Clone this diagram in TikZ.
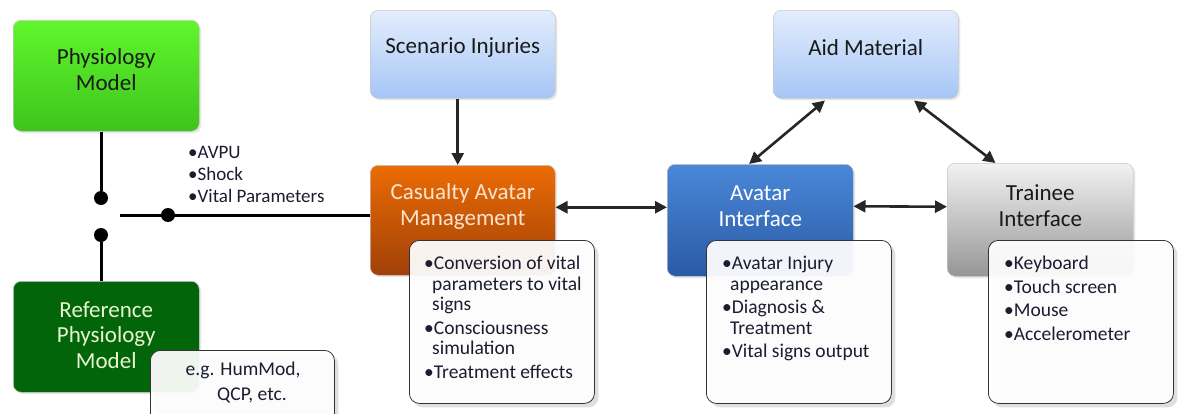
\documentclass[tikz,border=0pt]{standalone}
\usepackage{fontspec}
\setmainfont{Carlito}
\usetikzlibrary{shadows,arrows.meta,calc}
\definecolor{arrowc}{HTML}{262626}
\definecolor{listtxt}{HTML}{1C1C30}
\begin{document}
\begin{tikzpicture}[x=1pt,y=-1pt,
  cbox/.style={rounded corners=8pt, draw=black!22, line width=0.5pt, anchor=north west, inner sep=0pt,
    minimum width=186pt, minimum height=111pt,
    drop shadow={opacity=0.18, shadow xshift=2pt, shadow yshift=-2pt}},
  lbox/.style={rounded corners=10pt, draw=black!80, line width=0.8pt, anchor=north west, inner sep=0pt,
    minimum width=185pt, minimum height=163pt, fill=white, fill opacity=0.93,
    drop shadow={opacity=0.25, shadow xshift=4pt, shadow yshift=-4pt}},
  ttl/.style={align=center, font=\fontsize{23}{25.5}\selectfont},
  lst/.style={anchor=north west, align=left, inner sep=0pt, text=listtxt, font=\fontsize{19.5}{20.5}\selectfont},
  wire/.style={line width=3pt, draw=black},
  dot/.style={circle, fill=black, inner sep=0pt, minimum size=14pt},
  arr/.style={line width=2.6pt, draw=arrowc, >={Triangle[length=12pt,width=12pt]}}
]
\useasboundingbox (0,0) rectangle (1195,413);
\clip (0,0) rectangle (1195,413);

% colored boxes
\node[cbox, top color={rgb,255:red,96;green,246;blue,44}, bottom color={rgb,255:red,62;green,196;blue,28}] (phys) at (13,20) {};
\node[ttl, text=black!90] (physT) at ($(phys.center)+(0,-6)$) {Physiology\\Model};

\node[cbox, fill={rgb,255:red,3;green,101;blue,10}] (ref) at (13,281) {};
\node[ttl, text={rgb,255:red,232;green,245;blue,208}] (refT) at ($(ref.center)+(0,-2)$) {Reference\\Physiology\\Model};

\node[cbox, minimum width=185pt, minimum height=88pt, top color={rgb,255:red,227;green,237;blue,252}, bottom color={rgb,255:red,166;green,198;blue,246}] (scen) at (370,10) {};
\node[ttl, text=black!90] (scenT) at ($(scen.center)+(0,-7)$) {Scenario Injuries};

\node[cbox, minimum width=185pt, minimum height=88pt, top color={rgb,255:red,227;green,237;blue,252}, bottom color={rgb,255:red,166;green,198;blue,246}] (aid) at (773,10) {};
\node[ttl, text=black!90] (aidT) at ($(aid.center)+(0,-7)$) {Aid Material};

\node[cbox, minimum width=185pt, minimum height=110pt, top color={rgb,255:red,236;green,108;blue,4}, bottom color={rgb,255:red,160;green,64;blue,8}] (cas) at (370,165) {};
\node[ttl, text={rgb,255:red,253;green,228;blue,208}] (casT) at ($(cas.center)+(0,-14)$) {Casualty Avatar\\Management};

\node[cbox, minimum height=112pt, top color={rgb,255:red,74;green,136;blue,216}, bottom color={rgb,255:red,42;green,90;blue,166}] (ava) at (667,164) {};
\node[ttl, text=white] (avaT) at ($(ava.center)+(0,-14)$) {Avatar\\Interface};

\node[cbox, minimum height=113pt, top color={rgb,255:red,242;green,242;blue,242}, bottom color={rgb,255:red,150;green,150;blue,150}] (trn) at (947,163) {};
\node[ttl, text=black!90] (trnT) at ($(trn.center)+(0,-14)$) {Trainee\\Interface};

% list boxes
\node[lbox] (casL) at (409,240) {};
\node[lst] (casLT) at ($(casL.north west)+(15,16)$) {\textbullet Conversion of vital\\\hspace*{8pt}parameters to vital\\\hspace*{8pt}signs\\[3pt]\textbullet Consciousness\\\hspace*{8pt}simulation\\[3pt]\textbullet Treatment effects};

\node[lbox] (avaL) at (706,240) {};
\node[lst] (avaLT) at ($(avaL.north west)+(16,16)$) {\textbullet Avatar Injury\\\hspace*{8pt}appearance\\[3pt]\textbullet Diagnosis \&\\\hspace*{8pt}Treatment\\[3pt]\textbullet Vital signs output};

\node[lbox] (trnL) at (988,240) {};
\node[lst] (trnLT) at ($(trnL.north west)+(16,16)$) {\textbullet Keyboard\\[3pt]\textbullet Touch screen\\[3pt]\textbullet Mouse\\[3pt]\textbullet Accelerometer};

\node[lbox, minimum width=184pt, minimum height=90pt] (eg) at (150,350) {};
\node[align=center, inner sep=0pt, text=listtxt, font=\fontsize{19.5}{25}\selectfont] (egT) at (243,383) {e.g. HumMod,\\\hspace*{18pt}QCP, etc.};

% left wiring
\node[dot] (d1) at (101,198) {};
\node[dot] (d2) at (101,235) {};
\coordinate (sw) at (120,215);
\draw[wire] (phys.south -| d1) -- (d1);
\draw[wire] (d2) -- (d2 |- ref.north);
\draw[wire] (sw) -- (sw -| cas.west);
\node[dot] (d3) at (168,215) {};
\node[anchor=north west, align=left, inner sep=0pt, text=listtxt, font=\fontsize{19}{22}\selectfont] (sig) at (188,146) {\textbullet AVPU\\\textbullet Shock\\\textbullet Vital Parameters};

% arrows
\draw[arr,->] ($(scen.south)+(-5,0)$) -- ($(cas.north)+(-5,0)$);
\draw[arr,<->] ($(cas.east)+(0,-13)$) -- ($(ava.west)+(0,-13)$);
\draw[arr,<->] ($(ava.east)+(0,-14)$) -- ($(trn.west)+(0,-13)$);
\draw[arr,<->] ($(aid.south west)!0.28!(aid.south east)+(0,2)$) -- ($(ava.north west)!0.44!(ava.north east)$);
\draw[arr,<->] ($(aid.south west)!0.76!(aid.south east)+(0,2)$) -- ($(trn.north west)!0.26!(trn.north east)$);
\end{tikzpicture}
\end{document}
